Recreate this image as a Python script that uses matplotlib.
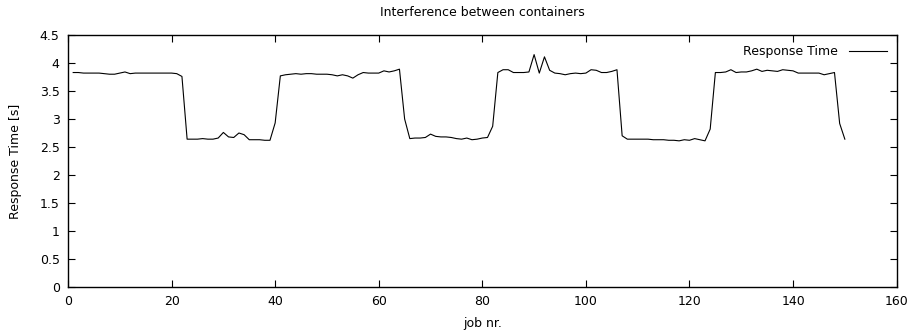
import numpy as np
import matplotlib.pyplot as plt

# response time per job (s)
jobs = np.arange(1, 151)
resp_time = [
    3.83, 3.83, 3.82, 3.82, 3.82, 3.82, 3.81, 3.80, 3.80, 3.82,
    3.84, 3.81, 3.82, 3.82, 3.82, 3.82, 3.82, 3.82, 3.82, 3.82,
    3.81, 3.76,
    2.64, 2.64, 2.64, 2.65, 2.64, 2.64, 2.66, 2.76, 2.68, 2.67,
    2.75, 2.72, 2.63, 2.63, 2.63, 2.62, 2.62, 2.93,
    3.77, 3.79, 3.80, 3.81, 3.80, 3.81, 3.81, 3.80, 3.80, 3.80,
    3.79, 3.77, 3.79, 3.77, 3.73, 3.79, 3.83, 3.82, 3.82, 3.82,
    3.86, 3.84, 3.86, 3.89,
    3.00, 2.65, 2.66, 2.66, 2.67, 2.73, 2.69, 2.68, 2.68, 2.67,
    2.65, 2.64, 2.66, 2.63, 2.64, 2.66, 2.67, 2.87,
    3.83, 3.88, 3.88, 3.83, 3.83, 3.83, 3.84, 4.15, 3.82, 4.11,
    3.87, 3.82, 3.81, 3.79, 3.81, 3.82, 3.81, 3.82, 3.88, 3.87,
    3.83, 3.83, 3.85, 3.88,
    2.70, 2.64, 2.64, 2.64, 2.64, 2.64, 2.63, 2.63, 2.63, 2.62,
    2.62, 2.61, 2.63, 2.62, 2.65, 2.63, 2.61, 2.82,
    3.83, 3.83, 3.84, 3.88, 3.83, 3.84, 3.84, 3.86, 3.89, 3.85,
    3.87, 3.86, 3.85, 3.88, 3.87, 3.86, 3.82, 3.82, 3.82, 3.82,
    3.82, 3.79, 3.81, 3.83,
    2.92, 2.64,
]

xticks = np.arange(0, 161, 20)
yticks = np.arange(0, 4.51, 0.5)

fig = plt.figure(figsize=(9.14, 3.35), dpi=100)
ax = fig.add_axes([0.0744, 0.1433, 0.9066, 0.7522])

ax.plot(jobs, resp_time, color='black', lw=0.8, label='Response Time')

ax.set_xlim(0, 160)
ax.set_ylim(0, 4.5)
ax.set_xticks(xticks)
ax.set_yticks(yticks)
ax.set_yticklabels(['%g' % v for v in yticks])
ax.tick_params(direction='in', length=5, width=0.8, top=True, right=True,
               labelsize=9, pad=6)
for s in ax.spines.values():
    s.set_linewidth(1.0)

ax.set_title('Interference between containers', fontsize=9, pad=14)
ax.set_xlabel('job nr.', fontsize=9, labelpad=6)
ax.set_ylabel('Response Time [s]', fontsize=9, labelpad=13)

ax.legend(loc='upper right', frameon=False, markerfirst=False,
          handlelength=3.0, handletextpad=0.9, fontsize=9,
          borderaxespad=0.4)

fig.savefig('out.png', dpi=100)
